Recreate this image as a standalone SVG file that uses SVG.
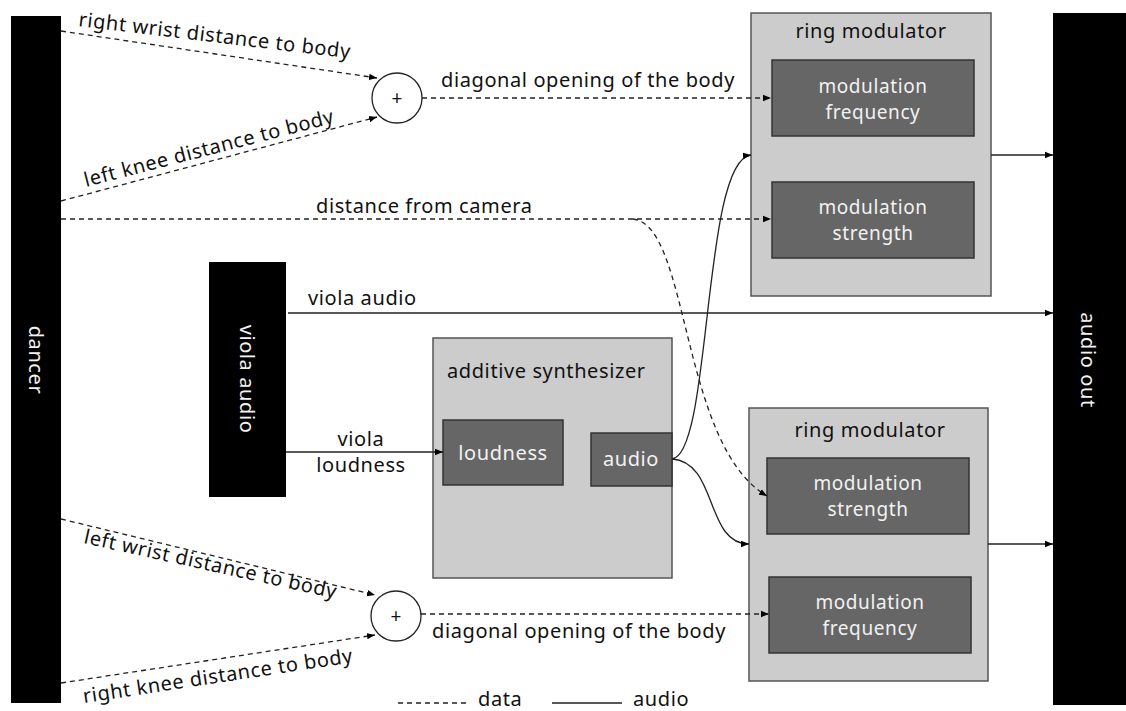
<svg xmlns="http://www.w3.org/2000/svg" width="1126" height="711" viewBox="0 0 1126 711">
<defs>
<marker id="ah" viewBox="0 0 10 10" refX="10" refY="5" markerWidth="8" markerHeight="8" markerUnits="userSpaceOnUse" orient="auto">
<path d="M0,1 L10,5 L0,9 z" fill="#000"/>
</marker>
<style>
text{font-family:"Noto Sans","Open Sans","Liberation Sans",sans-serif;font-size:20px;letter-spacing:0.6px;fill:#111}
.w{fill:#f2f2f2}
.c{text-anchor:middle}
.t{font-size:19px}
.blk{fill:#000}
.outer{fill:#cccccc;stroke:#555;stroke-width:1.5}
.inner{fill:#666666;stroke:#333;stroke-width:1.5}
.d{fill:none;stroke:#222;stroke-width:1.3;stroke-dasharray:5,4}
.s{fill:none;stroke:#222;stroke-width:1.3}
.m{marker-end:url(#ah)}
</style>
</defs>
<rect width="1126" height="711" fill="#fff"/>

<g id="dancer">
<rect class="blk" x="11" y="16" width="50" height="687"/>
<text class="w c" transform="translate(36,360) rotate(90)" dy="7">dancer</text>
</g>

<g id="audio-out">
<rect class="blk" x="1053" y="13" width="73" height="692"/>
<text class="w c" transform="translate(1088,360) rotate(90)" dy="7">audio out</text>
</g>

<g id="viola-audio">
<rect class="blk" x="209" y="262" width="77" height="235"/>
<text class="w c" transform="translate(247,379) rotate(90)" dy="7">viola audio</text>
</g>

<g id="sum-top">
<circle cx="397" cy="98" r="25" fill="#fff" stroke="#222" stroke-width="1.3"/>
<text class="c" x="397" y="105" style="font-size:19px;letter-spacing:0">+</text>
</g>

<g id="sum-bottom">
<circle cx="396" cy="616" r="25" fill="#fff" stroke="#222" stroke-width="1.3"/>
<text class="c" x="396" y="623" style="font-size:19px;letter-spacing:0">+</text>
</g>

<g id="ring-mod-top">
<rect class="outer" x="751" y="13" width="240" height="283"/>
<text class="c" x="871" y="38">ring modulator</text>
<rect class="inner" x="772" y="60" width="202" height="76"/>
<text class="w c t" x="873" y="93">modulation</text>
<text class="w c t" x="873" y="119">frequency</text>
<rect class="inner" x="772" y="182" width="202" height="76"/>
<text class="w c t" x="873" y="214">modulation</text>
<text class="w c t" x="873" y="240">strength</text>
</g>

<g id="ring-mod-bottom">
<rect class="outer" x="749" y="408" width="239" height="273"/>
<text class="c" x="870" y="437">ring modulator</text>
<rect class="inner" x="767" y="458" width="202" height="76"/>
<text class="w c t" x="868" y="490">modulation</text>
<text class="w c t" x="868" y="516">strength</text>
<rect class="inner" x="769" y="577" width="202" height="76"/>
<text class="w c t" x="870" y="609">modulation</text>
<text class="w c t" x="870" y="635">frequency</text>
</g>

<g id="additive-synth">
<rect class="outer" x="433" y="338" width="239" height="240"/>
<text x="447" y="378">additive synthesizer</text>
<rect class="inner" x="443" y="420" width="120" height="65"/>
<text class="w c" x="503" y="460">loudness</text>
<rect class="inner" x="591" y="433" width="81" height="53"/>
<text class="w c" x="631" y="466">audio</text>
</g>

<g id="connectors">
<path class="d m" d="M61,31 L377,78"/>
<path class="d m" d="M61,201 L377,117"/>
<path class="d m" d="M422,98 L771,98"/>
<path class="d m" d="M61,219 L771,219"/>
<path class="d m" d="M633,219 C690,225 680,445 767,496"/>
<path class="s m" d="M288,313 L1053,313"/>
<path class="s m" d="M286,452 L443,452"/>
<path class="s m" d="M672,459 C712,455 702,160 751,155"/>
<path class="s m" d="M672,459 C718,462 705,544 749,544"/>
<path class="s m" d="M991,155 L1053,155"/>
<path class="s m" d="M988,544 L1053,544"/>
<path class="d m" d="M61,519 L375,595"/>
<path class="d m" d="M61,683 L375,635"/>
<path class="d m" d="M421,614 L769,614"/>
</g>

<g id="labels">
<text transform="translate(78,26) rotate(6.8)">right wrist distance to body</text>
<text transform="translate(86,187) rotate(-14.5)">left knee distance to body</text>
<text x="441" y="87">diagonal opening of the body</text>
<text x="316" y="213">distance from camera</text>
<text x="308" y="305">viola audio</text>
<text class="c" x="361" y="446">viola</text>
<text class="c" x="361" y="472">loudness</text>
<text transform="translate(83,543) rotate(12.4)">left wrist distance to body</text>
<text transform="translate(84,703) rotate(-8.6)">right knee distance to body</text>
<text x="432" y="638">diagonal opening of the body</text>
</g>

<g id="legend">
<path class="d" d="M398,703 L468,703"/>
<text x="478" y="706">data</text>
<path class="s" d="M552,703 L622,703"/>
<text x="633" y="706">audio</text>
</g>
</svg>
